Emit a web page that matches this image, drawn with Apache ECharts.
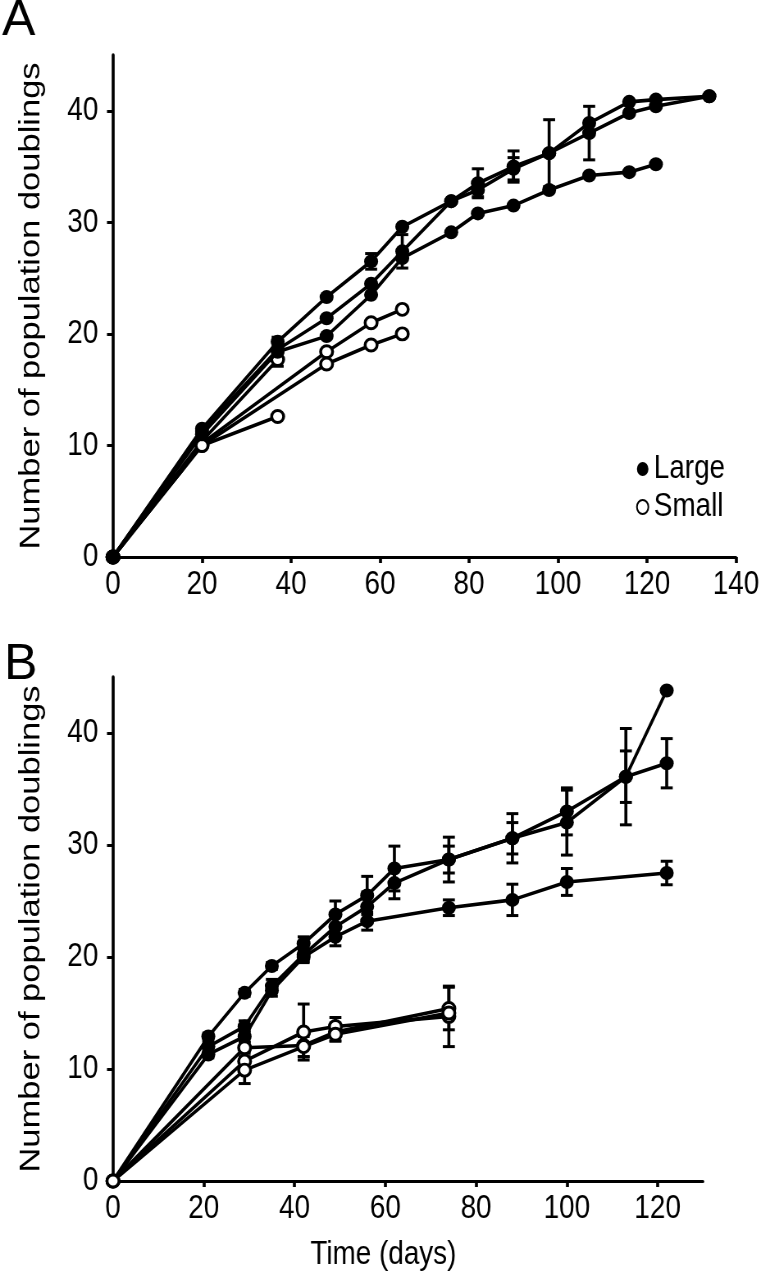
<!DOCTYPE html>
<html><head><meta charset="utf-8">
<script src="https://cdn.jsdelivr.net/npm/echarts@6/dist/echarts.min.js"></script>
<style>
html,body{margin:0;padding:0;background:#fff;overflow:hidden}
#wrap{width:763px;height:1280px;overflow:hidden;position:relative}
#c{width:930.5px;height:1280px;transform:scaleX(0.82);transform-origin:0 0;position:absolute;left:0;top:0}
</style>
</head><body><div id="wrap"><div id="c"></div></div>
<script>
// ---------- Panel A ----------
const daysA12 = [0,20,37,48,58,65,76,82,90,98,107,116,122,134];
const largeA1 = [0,11.5,19.3,23.3,26.5,29.6,31.9,33.5,35.0,36.2,38.9,40.8,41.0,41.3];
const largeA2 = [0,11.3,18.6,21.4,24.5,27.4,31.9,32.9,34.8,36.2,38.0,39.8,40.4,41.3];
const daysA3 = [0,20,37,48,58,65,76,82,90,98,107,116,122];
const largeA3 = [0,11.0,18.4,19.8,23.5,26.8,29.1,30.8,31.5,32.9,34.2,34.5,35.2];
const daysSA1 = [0,20,37];
const smallA1 = [0,10.0,12.6];
const daysSA4 = [0,20,37];
const smallA4 = [0,10.4,17.7];
const daysSA23 = [0,20,48,58,65];
const smallA2 = [0,10.2,18.4,21.0,22.2];
const smallA3 = [0,10.0,17.3,19.0,20.0];
// error bars A: day, mean, sem
const errDaysA = [37,37,58,65,82,82,90,90,98,107];
const errMeanA = [19.3,17.7,26.5,27.4,33.5,32.9,35.0,34.8,36.2,38.0];
const errSemA  = [0.4,0.6,0.7,1.5,1.3,0.6,1.4,1.0,3.0,2.4];
const xTicksA = [0,20,40,60,80,100,120,140];

// ---------- Panel B ----------
const daysB12 = [0,21,29,35,42,49,56,62,74,88,100,113,122];
const largeB1 = [0,12.9,16.8,19.2,21.2,23.8,25.5,27.9,28.7,30.6,33.0,36.1,43.8];
const semB1   = [0,0.3,0.3,0.3,0.6,1.2,1.7,2.0,2.0,2.2,2.1,4.3,0];
const largeB2 = [0,12.0,13.8,17.4,20.2,22.7,24.5,26.6,28.7,30.6,32.0,36.1,37.3];
const semB2   = [0,0.4,0.5,0.6,0.6,1.0,1.3,1.4,1.2,1.4,2.9,2.3,2.2];
const daysB3  = [0,21,29,35,42,49,56,74,88,100,122];
const largeB3 = [0,11.3,12.9,17.0,20.0,21.8,23.2,24.4,25.1,26.7,27.5];
const semB3   = [0,0.3,0.5,0.5,0.5,0.8,0.8,0.7,1.4,1.2,1.05];
const daysSB  = [0,29,42,49,74];
const smallB1 = [0,11.9,12.1,13.3,15.4];
const semSB1  = [0,0.5,1.0,0.8,1.9];
const smallB2 = [0,10.7,13.3,13.8,14.7];
const semSB2  = [0,0.9,2.5,0.8,2.7];
const smallB3 = [0,9.9,12.0,13.1,15.0];
const semSB3  = [0,1.2,0.9,0.6,0.4];
const xTicksB = [0,20,40,60,80,100,120];
const yTicks = [0,10,20,30,40];

// The whole chart is drawn 1/K wider and squeezed by CSS scaleX(K) to mimic the condensed typeface.
const K = 0.82;
const FONT = '"Liberation Sans", Arial, Helvetica, sans-serif';
const CIRCLE = 'path://M0,-10A10,10,0,1,1,0,10A10,10,0,1,1,0,-10Z';
const pair = (xs, ys) => xs.map((x, i) => [x, ys[i]]);
const errData = (xs, ms, ss) => xs.map((x, i) => [x, ms[i] - ss[i], ms[i] + ss[i]]).filter(d => d[2] - d[1] > 0);

function errRender(params, api) {
  const x = api.value(0), lo = api.value(1), hi = api.value(2);
  const p1 = api.coord([x, hi]), p2 = api.coord([x, lo]);
  const cw = 6 / K;
  const stem = {stroke: '#000', lineWidth: 3 / K};
  const cap = {stroke: '#000', lineWidth: 3};
  return {type: 'group', children: [
    {type: 'line', shape: {x1: p1[0], y1: p1[1], x2: p2[0], y2: p2[1]}, style: stem},
    {type: 'line', shape: {x1: p1[0]-cw, y1: p1[1], x2: p1[0]+cw, y2: p1[1]}, style: cap},
    {type: 'line', shape: {x1: p2[0]-cw, y1: p2[1], x2: p2[0]+cw, y2: p2[1]}, style: cap}
  ]};
}
function errSeries(data, idx) {
  return {type: 'custom', renderItem: errRender, xAxisIndex: idx, yAxisIndex: idx,
    encode: {x: 0, y: [1, 2]}, data, z: 3, silent: true};
}
function lineSeries(name, data, idx, open) {
  const s = open ? 12 : 14;
  return {name, type: 'line', xAxisIndex: idx, yAxisIndex: idx, data,
    symbol: CIRCLE, symbolSize: [s / K, s], showAllSymbol: true,
    lineStyle: {color: '#000', width: 3.6},
    itemStyle: open ? {color: '#fff', borderColor: '#000', borderWidth: 3.2} : {color: '#000', borderColor: '#000', borderWidth: 0},
    z: open ? 4 : 5, silent: true, animation: false};
}

function xAx(idx, max, ticks, name) {
  return {type: 'value', gridIndex: idx, min: 0, max,
    axisLine: {lineStyle: {color: '#000', width: 3}},
    axisTick: {length: 6, lineStyle: {color: '#000', width: 3 / K}, customValues: ticks},
    axisLabel: {color: '#000', fontSize: 34, fontFamily: FONT, margin: 11, customValues: ticks},
    splitLine: {show: false},
    name, nameLocation: 'middle', nameGap: 57,
    nameTextStyle: {color: '#000', fontSize: 34, fontFamily: FONT, padding: [0, 60, 0, 0]}};
}
function yAx(idx) {
  return {type: 'value', gridIndex: idx, min: 0, max: 45,
    axisLine: {lineStyle: {color: '#000', width: 3 / K}},
    axisTick: {length: 6 / K, lineStyle: {color: '#000', width: 3}, customValues: yTicks},
    axisLabel: {color: '#000', fontSize: 34, fontFamily: FONT, margin: 18, customValues: yTicks},
    splitLine: {show: false},
    name: 'Number of population doublings', nameLocation: 'middle', nameGap: 82,
    nameTextStyle: {color: '#000', fontSize: 34.5, fontFamily: FONT}};
}

const chart = echarts.init(document.getElementById('c'), null, {renderer: 'canvas'});
chart.setOption({
  animation: false,
  backgroundColor: '#fff',
  graphic: [
    {type: 'text', left: 2 / K, top: -4, scaleX: 1 / K, style: {text: 'A', fontSize: 50, fontFamily: FONT, fill: '#000'}},
    {type: 'text', left: 4 / K, top: 640, scaleX: 1 / K, style: {text: 'B', fontSize: 50, fontFamily: FONT, fill: '#000'}}
  ],
  grid: [
    {left: 113 / K, top: 55, width: 623 / K, height: 502, containLabel: false},
    {left: 113 / K, top: 677, width: 590 / K, height: 504, containLabel: false}
  ],
  xAxis: [xAx(0, 140, xTicksA, ''), xAx(1, 130, xTicksB, 'Time (days)')],
  yAxis: [yAx(0), yAx(1)],
  legend: {left: 632 / K, top: 447, orient: 'vertical', itemGap: 4, itemWidth: 14 / K, itemHeight: 14,
    selectedMode: false,
    textStyle: {fontSize: 34, fontFamily: FONT, color: '#000'},
    data: [{name: 'Large', icon: CIRCLE}, {name: 'Small', icon: CIRCLE}]},
  series: [
    lineSeries('Small', pair(daysSA1, smallA1), 0, true),
    lineSeries('Small', pair(daysSA4, smallA4), 0, true),
    lineSeries('Small', pair(daysSA23, smallA2), 0, true),
    lineSeries('Small', pair(daysSA23, smallA3), 0, true),
    errSeries(errData(errDaysA, errMeanA, errSemA), 0),
    lineSeries('Large', pair(daysA3, largeA3), 0, false),
    lineSeries('Large', pair(daysA12, largeA2), 0, false),
    lineSeries('Large', pair(daysA12, largeA1), 0, false),

    errSeries(errData(daysB12, largeB1, semB1), 1),
    errSeries(errData(daysB12, largeB2, semB2), 1),
    errSeries(errData(daysB3, largeB3, semB3), 1),
    errSeries(errData(daysSB, smallB1, semSB1), 1),
    errSeries(errData(daysSB, smallB2, semSB2), 1),
    errSeries(errData(daysSB, smallB3, semSB3), 1),
    lineSeries('Large', pair(daysB3, largeB3), 1, false),
    lineSeries('Large', pair(daysB12, largeB2), 1, false),
    lineSeries('Large', pair(daysB12, largeB1), 1, false),
    Object.assign(lineSeries('Small', pair(daysSB, smallB1), 1, true), {z: 6}),
    Object.assign(lineSeries('Small', pair(daysSB, smallB2), 1, true), {z: 6}),
    Object.assign(lineSeries('Small', pair(daysSB, smallB3), 1, true), {z: 6})
  ]
});
</script></body></html>
